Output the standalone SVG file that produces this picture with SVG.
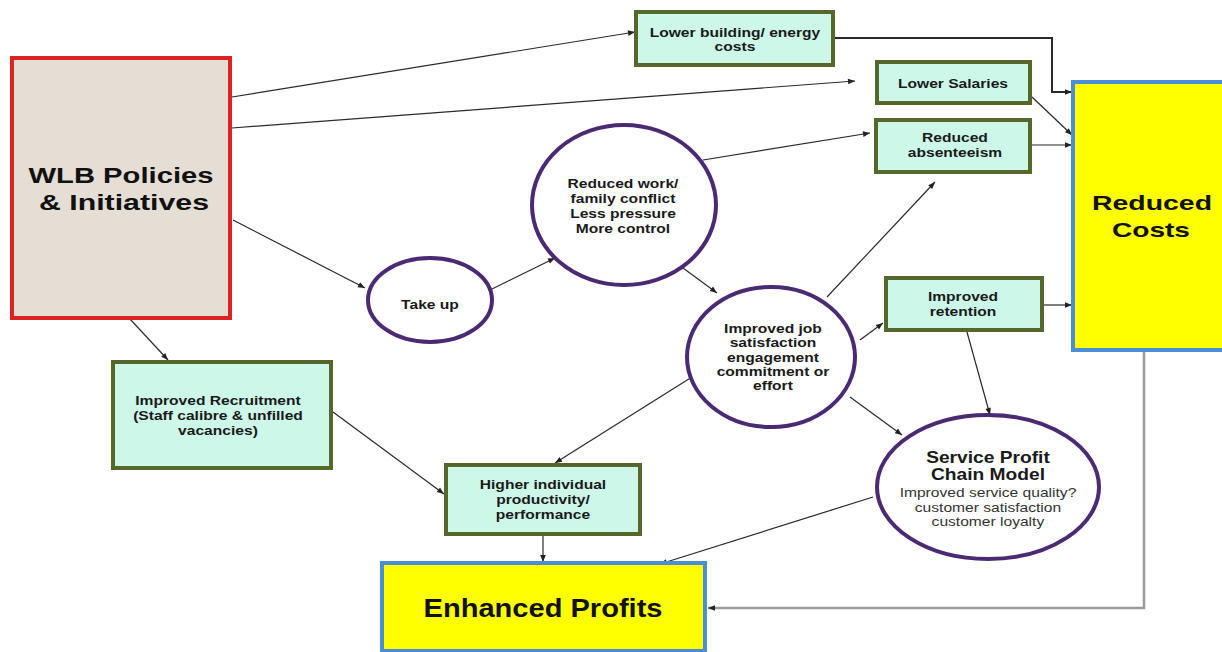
<svg xmlns="http://www.w3.org/2000/svg" width="1222" height="652" viewBox="0 0 1222 652">
<style>
.bg{fill:#ffffff}
.box{fill:#cdf8e9;stroke:#55682a;stroke-width:4}
.big{fill:#ffff00;stroke:#4a8fd6;stroke-width:4}
.wlb{fill:#e5ded5;stroke:#dd2222;stroke-width:4}
.circ{fill:#ffffff;stroke:#4a2a72;stroke-width:4}
.c{fill:none;stroke:#2a2a2a;stroke-width:1.2;marker-end:url(#ah)}
.t{font-family:"Liberation Sans",Arial,sans-serif;font-weight:bold;font-size:13px;fill:#1a1a1a;text-anchor:middle;transform-box:fill-box;transform-origin:center;transform:scaleX(1.2)}
.sp{font-size:16px}
.r{font-family:"Liberation Sans",Arial,sans-serif;font-size:13px;fill:#333333;text-anchor:middle;transform-box:fill-box;transform-origin:center;transform:scaleX(1.2)}
.h{font-family:"Liberation Sans",Arial,sans-serif;font-weight:bold;fill:#111111;text-anchor:middle}
</style>
<defs>
<marker id="ah" viewBox="0 0 10 10" refX="10" refY="5" markerWidth="8" markerHeight="7" markerUnits="userSpaceOnUse" orient="auto">
<path d="M0,1 L10,5 L0,9 z" fill="#222"/>
</marker>
</defs>
<rect class="bg" x="0" y="0" width="1222" height="652"/>

<g id="connectors">
<path class="c" d="M232,97 L635,32"/>
<path class="c" d="M232,128 L855,81"/>
<path class="c" d="M233,220 L365,288"/>
<path class="c" d="M130,319 L168,360"/>
<path class="c" d="M490,290 L555,258"/>
<path class="c" d="M683,268 L717,293"/>
<path class="c" d="M703,160 L870,133"/>
<path class="c" d="M827,297 L935,182"/>
<path class="c" d="M860,340 L883,323"/>
<path class="c" d="M850,397 L902,435"/>
<path class="c" d="M967,332 L990,415"/>
<path class="c" d="M692,377 L555,463"/>
<path class="c" d="M333,412 L444,494"/>
<path class="c" d="M543,535 L543,562"/>
<path class="c" d="M873,497 L660,564"/>
<path class="c" style="stroke-width:2" d="M833,38 H1052 V92 H1072"/>
<path class="c" d="M1032,97 L1072,135"/>
<path class="c" d="M1030,145 L1072,145"/>
<path class="c" d="M1042,305 L1072,305"/>
<path class="c" style="stroke:#999999;stroke-width:2.5" d="M1144,352 V608 H708"/>
</g>

<g id="wlb">
<rect class="wlb" x="12" y="58" width="218" height="260"/>
<text class="h" x="121" y="183" font-size="22" textLength="185" lengthAdjust="spacingAndGlyphs">WLB Policies</text>
<text class="h" x="124" y="210" font-size="22" textLength="170" lengthAdjust="spacingAndGlyphs">&amp; Initiatives</text>
</g>

<g id="lower-building">
<rect class="box" x="636" y="12" width="197" height="53"/>
<text class="t" x="735" y="37">Lower building/ energy</text>
<text class="t" x="735" y="51">costs</text>
</g>

<g id="lower-salaries">
<rect class="box" x="877" y="62" width="153" height="41"/>
<text class="t" x="953" y="88">Lower Salaries</text>
</g>

<g id="reduced-absenteeism">
<rect class="box" x="876" y="120" width="154" height="52"/>
<text class="t" x="955" y="142">Reduced</text>
<text class="t" x="955" y="157">absenteeism</text>
</g>

<g id="reduced-costs">
<rect class="big" x="1073" y="82" width="155" height="268"/>
<text class="h" x="1152" y="210" font-size="21" textLength="120" lengthAdjust="spacingAndGlyphs">Reduced</text>
<text class="h" x="1151" y="237" font-size="21" textLength="78" lengthAdjust="spacingAndGlyphs">Costs</text>
</g>

<g id="take-up">
<ellipse class="circ" cx="430" cy="300" rx="62" ry="42"/>
<text class="t" x="430" y="309">Take up</text>
</g>

<g id="reduced-work">
<ellipse class="circ" cx="624" cy="205" rx="92" ry="80"/>
<text class="t" x="623" y="188">Reduced work/</text>
<text class="t" x="623" y="203">family conflict</text>
<text class="t" x="623" y="218">Less pressure</text>
<text class="t" x="623" y="233">More control</text>
</g>

<g id="improved-job">
<ellipse class="circ" cx="771" cy="357" rx="84" ry="70"/>
<text class="t" x="773" y="333">Improved job</text>
<text class="t" x="773" y="347">satisfaction</text>
<text class="t" x="773" y="362">engagement</text>
<text class="t" x="773" y="376">commitment or</text>
<text class="t" x="773" y="390">effort</text>
</g>

<g id="improved-retention">
<rect class="box" x="886" y="278" width="156" height="52"/>
<text class="t" x="963" y="301">Improved</text>
<text class="t" x="963" y="316">retention</text>
</g>

<g id="service-profit">
<ellipse class="circ" cx="988" cy="487" rx="111" ry="72"/>
<text class="t sp" x="988" y="463">Service Profit</text>
<text class="t sp" x="988" y="480">Chain Model</text>
<text class="r" x="988" y="497">Improved service quality?</text>
<text class="r" x="988" y="512">customer satisfaction</text>
<text class="r" x="988" y="526">customer loyalty</text>
</g>

<g id="improved-recruitment">
<rect class="box" x="113" y="362" width="218" height="106"/>
<text class="t" x="218" y="405">Improved Recruitment</text>
<text class="t" x="218" y="420">(Staff calibre &amp; unfilled</text>
<text class="t" x="218" y="435">vacancies)</text>
</g>

<g id="higher-productivity">
<rect class="box" x="446" y="465" width="194" height="69"/>
<text class="t" x="543" y="489">Higher individual</text>
<text class="t" x="543" y="504">productivity/</text>
<text class="t" x="543" y="519">performance</text>
</g>

<g id="enhanced-profits">
<rect class="big" x="382" y="563" width="323" height="88"/>
<text class="h" x="543" y="617" font-size="25" textLength="239" lengthAdjust="spacingAndGlyphs">Enhanced Profits</text>
</g>
</svg>
